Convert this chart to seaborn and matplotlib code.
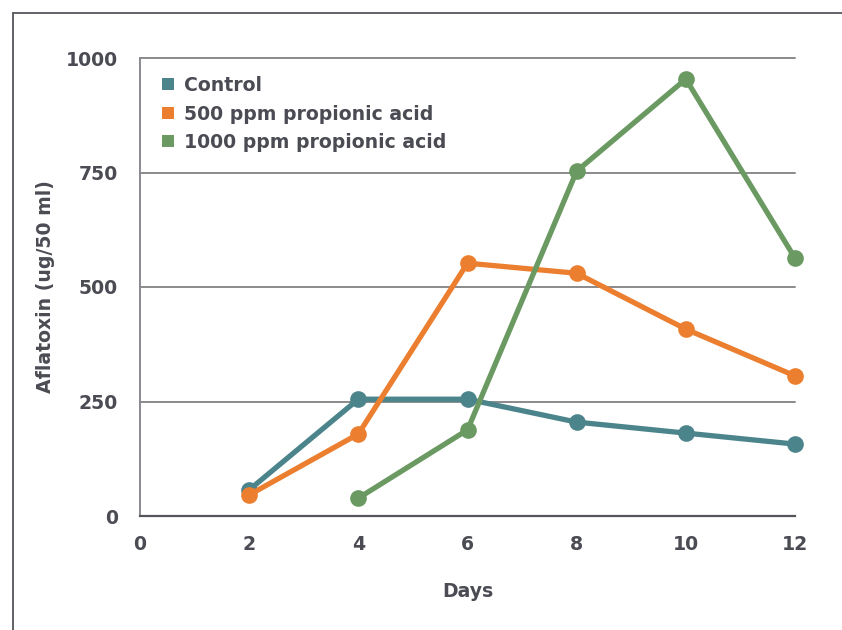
import matplotlib
matplotlib.use("Agg")
import matplotlib.pyplot as plt
from matplotlib.lines import Line2D
import seaborn as sns
import pandas as pd

days = [2, 4, 6, 8, 10, 12]
control = [57, 255, 255, 205, 181, 157]
ppm500 = [46, 179, 552, 530, 408, 306]
days_1000 = [4, 6, 8, 10, 12]
ppm1000 = [39, 188, 753, 954, 563]

series_names = ["Control", "500 ppm propionic acid", "1000 ppm propionic acid"]
colors = ["#4b848b", "#ec7f2f", "#6a9a61"]
y_ticks = [0, 250, 500, 750, 1000]
x_ticks = [0, 2, 4, 6, 8, 10, 12]

df = pd.concat([
    pd.DataFrame({"Days": days, "Aflatoxin": control, "Series": series_names[0]}),
    pd.DataFrame({"Days": days, "Aflatoxin": ppm500, "Series": series_names[1]}),
    pd.DataFrame({"Days": days_1000, "Aflatoxin": ppm1000, "Series": series_names[2]}),
], ignore_index=True)

sns.set_style("white")
plt.rcParams["font.family"] = ["DejaVu Sans"]
text_color = "#4a4b53"
fs = 13.6

fig = plt.figure(figsize=(8.42, 6.30), dpi=100)
ax = fig.add_axes([140 / 842, 1 - 516 / 630, (795 - 140) / 842, (516 - 58) / 630])

for y in y_ticks[1:]:
    ax.axhline(y, color="#8a8a8a", lw=1.4, zorder=0)

sns.lineplot(data=df, x="Days", y="Aflatoxin", hue="Series", palette=colors,
             hue_order=series_names, marker="o", markersize=12, markeredgewidth=0,
             linewidth=3.8, ax=ax, legend=False, sort=False)
for line in ax.get_lines():
    line.set_clip_on(False)

ax.set_xlim(0, 12)
ax.set_ylim(0, 1000)
ax.set_xticks(x_ticks)
ax.set_yticks(y_ticks)
ax.tick_params(axis="both", length=0, labelsize=fs, colors=text_color)
ax.tick_params(axis="y", pad=16)
ax.tick_params(axis="x", pad=14)
for lab in ax.get_xticklabels() + ax.get_yticklabels():
    lab.set_fontweight("bold")

ax.spines["top"].set_visible(False)
ax.spines["right"].set_visible(False)
ax.spines["left"].set_color("#8a8a8f")
ax.spines["left"].set_linewidth(1.4)
ax.spines["bottom"].set_color("#55565c")
ax.spines["bottom"].set_linewidth(1.6)
ax.patch.set_alpha(0)

ax.set_xlabel("Days", fontsize=fs, fontweight="bold", color=text_color, labelpad=20)
ax.set_ylabel("Aflatoxin (ug/50 ml)", fontsize=fs, fontweight="bold", color=text_color, labelpad=8)

handles = [Line2D([], [], marker="s", linestyle="none", markersize=9,
                  markerfacecolor=c, markeredgewidth=0) for c in colors]
leg = ax.legend(handles, series_names, loc="upper left", bbox_to_anchor=(0.017, 0.977),
                borderaxespad=0, frameon=False, handletextpad=0.35, labelspacing=0.5,
                handlelength=1.0, prop={"size": fs, "weight": "bold"})
for t in leg.get_texts():
    t.set_color(text_color)

# outer frame around the chart
fig.add_artist(Line2D([12.5 / 842, 12.5 / 842], [0, 1 - 13 / 630], color="#55565c", lw=1.3))
fig.add_artist(Line2D([12.5 / 842, 1], [1 - 13 / 630, 1 - 13 / 630], color="#55565c", lw=1.3))

fig.savefig("out.png", dpi=100)
